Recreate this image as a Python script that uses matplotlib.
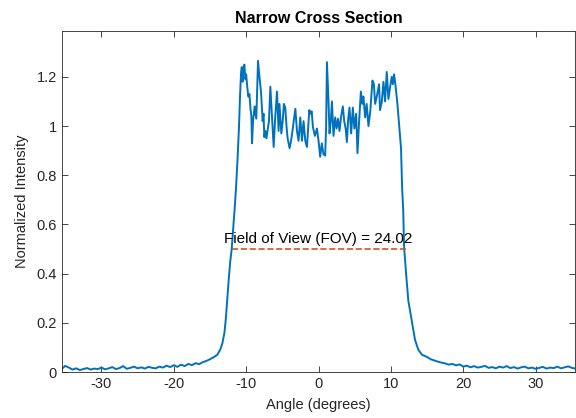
import numpy as np
import matplotlib

matplotlib.use("Agg")
import matplotlib.pyplot as plt

plt.rcParams["font.family"] = ["Liberation Sans", "DejaVu Sans"]
plt.rcParams["axes.unicode_minus"] = False

# baseline noise on both sides (0.5 deg spacing)
left_base_x = np.arange(-35.5, -16.4, 0.5)
left_base_y = [0.012, 0.025, 0.018, 0.010, 0.015, 0.008, 0.012, 0.016, 0.010, 0.014,
               0.012, 0.018, 0.011, 0.015, 0.020, 0.012, 0.016, 0.024, 0.013, 0.017,
               0.022, 0.015, 0.019, 0.014, 0.021, 0.017, 0.015, 0.022, 0.018, 0.026,
               0.020, 0.028, 0.021, 0.030, 0.024, 0.033, 0.028, 0.036, 0.032]

right_base_x = np.arange(16.5, 35.6, 0.5)
right_base_y = [0.042, 0.038, 0.035, 0.030, 0.033, 0.027, 0.031, 0.022, 0.026, 0.019,
                0.024, 0.018, 0.021, 0.025, 0.017, 0.020, 0.015, 0.022, 0.018, 0.024,
                0.016, 0.020, 0.014, 0.019, 0.022, 0.015, 0.018, 0.013, 0.017, 0.021,
                0.014, 0.018, 0.016, 0.022, 0.015, 0.019, 0.023, 0.017, 0.014]

# edges and plateau
core_x = [-16.0, -15.5, -15.0, -14.5, -14.0, -13.6, -13.3, -13.0, -12.8, -12.6,
          -12.4, -12.2, -12.0, -11.8, -11.6, -11.4, -11.2, -11.0, -10.85, -10.7,
          -10.6, -10.5, -10.4, -10.25, -10.1, -10.0, -9.85, -9.7, -9.55, -9.4,
          -9.28, -9.19, -9.05, -8.83, -8.6, -8.36, -8.2, -7.95, -7.72, -7.6,
          -7.49, -7.35, -7.2, -7.0, -6.85, -6.66, -6.43, -6.2, -6.0, -5.74,
          -5.6, -5.52, -5.4, -5.14, -4.95, -4.79, -4.6, -4.4, -4.27, -4.0,
          -3.8, -3.6, -3.43, -3.2, -2.98, -2.76, -2.52, -2.29, -2.07, -1.83,
          -1.6, -1.28, -1.1, -0.95, -0.77, -0.5, -0.22, 0.0, 0.23, 0.45,
          0.69, 0.92, 1.05, 1.16, 1.38, 1.52, 1.7, 1.85, 2.07, 2.3,
          2.5, 2.7, 2.9, 3.13, 3.36, 3.55, 3.75, 3.92, 4.1, 4.28,
          4.51, 4.74, 4.95, 5.2, 5.38, 5.61, 5.85, 6.05, 6.2, 6.44,
          6.65, 6.9, 7.15, 7.45, 7.65, 7.82, 8.05, 8.37, 8.5, 8.75,
          8.97, 9.2, 9.43, 9.66, 9.9, 10.12, 10.28, 10.44, 10.62, 10.9,
          11.17, 11.4, 11.55, 11.7, 11.82, 12.1, 12.41, 12.88, 13.34, 13.8,
          14.3, 14.95, 15.5, 16.0]
core_y = [0.040, 0.045, 0.052, 0.060, 0.070, 0.090, 0.115, 0.16, 0.22, 0.30,
          0.38, 0.45, 0.50, 0.58, 0.66, 0.75, 0.86, 0.99, 1.12, 1.22,
          1.24, 1.18, 1.23, 1.25, 1.19, 1.21, 1.16, 1.12, 1.13, 1.07,
          1.04, 0.93, 1.02, 1.08, 1.03, 1.265, 1.21, 1.14, 1.02, 1.05,
          0.955, 0.98, 0.95, 0.99, 1.02, 1.16, 1.04, 0.915, 1.03, 1.14,
          1.04, 0.98, 1.09, 0.97, 1.02, 1.09, 1.075, 0.99, 0.95, 0.91,
          0.94, 0.98, 1.02, 1.07, 0.98, 0.94, 1.035, 0.94, 1.02, 0.94,
          0.915, 1.065, 1.05, 1.06, 0.995, 0.96, 0.99, 0.94, 0.875, 0.93,
          0.885, 0.88, 1.0, 1.26, 1.10, 0.97, 1.02, 1.10, 0.96, 1.035,
          0.99, 1.03, 0.98, 1.04, 1.08, 1.02, 0.99, 0.935, 1.03, 1.075,
          0.97, 1.075, 0.99, 1.05, 0.89, 1.02, 1.14, 1.09, 1.12, 1.035,
          1.09, 1.0, 1.06, 1.185, 1.17, 1.09, 1.12, 1.17, 1.065, 1.10,
          1.18, 1.10, 1.22, 1.11, 1.16, 1.20, 1.17, 1.21, 1.17, 1.09,
          0.995, 0.91, 0.75, 0.66, 0.51, 0.40, 0.29, 0.21, 0.13, 0.09,
          0.07, 0.062, 0.052, 0.047]

angle = np.concatenate([left_base_x, core_x, right_base_x])
intensity = np.concatenate([left_base_y, core_y, right_base_y])

fov_left = -12.0
fov_right = 12.02
half_max = 0.5
fov = fov_right - fov_left

fig = plt.figure(figsize=(5.76, 4.18), dpi=100)
ax = fig.add_axes([0.107, 0.110, 0.892, 0.815])

ax.plot(angle, intensity, color="#0072BD", lw=1.4)
ax.plot([fov_left, fov_right], [half_max, half_max], "--", color="#D95319", lw=1.2)
ax.text(0, half_max + 0.012, f"Field of View (FOV) = {fov:.2f}", ha="center", va="bottom",
        fontsize=11, color="#000000")

ax.set_xlim(-35.5, 35.5)
ax.set_ylim(0, 1.385)
ax.set_xticks([-30, -20, -10, 0, 10, 20, 30])
ax.set_yticks([0, 0.2, 0.4, 0.6, 0.8, 1.0, 1.2])
ax.set_yticklabels(["0", "0.2", "0.4", "0.6", "0.8", "1", "1.2"])

ax.tick_params(direction="in", length=4, width=0.6, colors="#262626", labelsize=10.5,
               top=True, right=True)
for spine in ax.spines.values():
    spine.set_color("#262626")
    spine.set_linewidth(0.6)

ax.set_xlabel("Angle (degrees)", fontsize=10.5, color="#262626", labelpad=5)
ax.set_ylabel("Normalized Intensity", fontsize=10.5, color="#262626", labelpad=5)
ax.set_title("Narrow Cross Section", fontsize=11.5, fontweight="bold", pad=6)

fig.savefig("out.png", dpi=100)
